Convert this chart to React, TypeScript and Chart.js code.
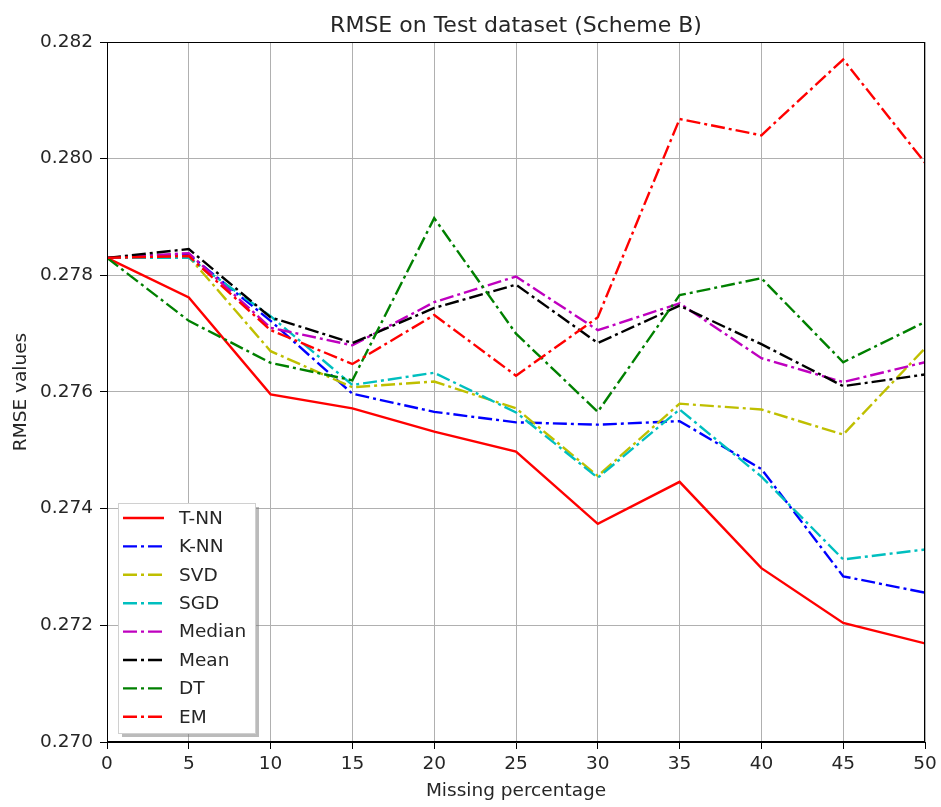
import React, { useEffect, useRef } from "react";
import { Chart, registerables } from "chart.js";

Chart.register(...registerables);

const missing = [0, 5, 10, 15, 20, 25, 30, 35, 40, 45, 50];
const tnn = [0.2783, 0.27762, 0.27596, 0.27572, 0.27532, 0.27498, 0.27374, 0.27446, 0.27298, 0.27204, 0.27169];
const knn = [0.2783, 0.27836, 0.27722, 0.27597, 0.27566, 0.27548, 0.27544, 0.2755, 0.27468, 0.27284, 0.27256];
const svd = [0.2783, 0.27832, 0.2767, 0.27608, 0.27618, 0.27572, 0.27456, 0.2758, 0.2757, 0.27527, 0.27675];
const sgd = [0.2783, 0.2783, 0.2773, 0.27612, 0.27633, 0.27565, 0.27453, 0.2757, 0.27455, 0.27313, 0.2733];
const median = [0.2783, 0.27838, 0.2771, 0.2768, 0.27754, 0.27798, 0.27706, 0.27752, 0.27658, 0.27617, 0.27651];
const mean = [0.2783, 0.27845, 0.27728, 0.27684, 0.27744, 0.27784, 0.27684, 0.27748, 0.27682, 0.2761, 0.2763];
const dt = [0.2783, 0.27722, 0.2765, 0.2762, 0.27898, 0.277, 0.27566, 0.27766, 0.27795, 0.27651, 0.2772];
const em = [0.2783, 0.27833, 0.27706, 0.27648, 0.27732, 0.27628, 0.27728, 0.28068, 0.2804, 0.2817, 0.27993];

const seriesNames = ["T-NN", "K-NN", "SVD", "SGD", "Median", "Mean", "DT", "EM"];
const seriesValues = [tnn, knn, svd, sgd, median, mean, dt, em];
const seriesColors = ["#ff0000", "#0000ff", "#bfbf00", "#00bfbf", "#bf00bf", "#000000", "#008000", "#ff0000"];
const seriesSolid = [true, false, false, false, false, false, false, false];

const titleText = "RMSE on Test dataset (Scheme B)";
const xTitle = "Missing percentage";
const yTitle = "RMSE values";

const FONT = "'DejaVu Sans', sans-serif";
const DASH = [14, 4, 3, 4];
const LW = 2.4;

const overlay = {
  id: "overlay",
  afterDraw(chart: any) {
    const ctx = chart.ctx as CanvasRenderingContext2D;
    const a = chart.chartArea;
    ctx.save();
    // frame
    ctx.strokeStyle = "#000";
    ctx.lineWidth = 1;
    ctx.setLineDash([]);
    ctx.strokeRect(a.left + 0.5, a.top + 0.5, a.right - a.left - 1, a.bottom - a.top - 1);
    // title
    ctx.fillStyle = "#262626";
    ctx.font = `22px ${FONT}`;
    ctx.textAlign = "center";
    ctx.textBaseline = "alphabetic";
    ctx.fillText(titleText, (a.left + a.right) / 2, 32);
    // axis titles
    ctx.font = `18.5px ${FONT}`;
    ctx.fillText(xTitle, (a.left + a.right) / 2, 796);
    ctx.save();
    ctx.translate(26, (a.top + a.bottom) / 2);
    ctx.rotate(-Math.PI / 2);
    ctx.fillText(yTitle, 0, 0);
    ctx.restore();
    // legend
    const bx = 118, by = 503, bw = 137, bh = 230;
    ctx.fillStyle = "rgba(120,120,120,0.5)";
    ctx.fillRect(bx + 4, by + 4, bw, bh);
    ctx.fillStyle = "rgba(255,255,255,1)";
    ctx.fillRect(bx, by, bw, bh);
    ctx.strokeStyle = "#d0d0d0";
    ctx.strokeRect(bx + 0.5, by + 0.5, bw, bh);
    ctx.font = `18.5px ${FONT}`;
    ctx.textAlign = "left";
    ctx.textBaseline = "middle";
    for (let i = 0; i < seriesNames.length; i++) {
      const yy = 518 + i * 28.4;
      ctx.strokeStyle = seriesColors[i];
      ctx.lineWidth = LW;
      ctx.setLineDash(seriesSolid[i] ? [] : DASH);
      ctx.beginPath();
      ctx.moveTo(123, yy);
      ctx.lineTo(164, yy);
      ctx.stroke();
      ctx.setLineDash([]);
      ctx.fillStyle = "#262626";
      ctx.fillText(seriesNames[i], 179, yy + 1);
    }
    ctx.restore();
  },
};

export default function App() {
  const ref = useRef<HTMLCanvasElement>(null);
  useEffect(() => {
    if (!ref.current) return;
    const chart = new Chart(ref.current, {
      type: "line",
      data: {
        datasets: seriesNames.map((name, i) => ({
          label: name,
          data: missing.map((x, j) => ({ x, y: seriesValues[i][j] })),
          borderColor: seriesColors[i],
          backgroundColor: seriesColors[i],
          borderWidth: LW,
          borderDash: seriesSolid[i] ? [] : DASH,
          pointRadius: 0,
          tension: 0,
          fill: false,
          order: seriesNames.length - i,
        })),
      },
      options: {
        animation: false,
        responsive: false,
        devicePixelRatio: 1,
        layout: { padding: { left: 0, top: 42, right: 16, bottom: 0 } },
        plugins: { legend: { display: false }, title: { display: false }, tooltip: { enabled: false } },
        scales: {
          x: {
            type: "linear",
            min: 0,
            max: 50,
            ticks: { stepSize: 5, color: "#262626", font: { family: FONT, size: 18.5 }, padding: 4, maxRotation: 0 },
            grid: { color: "#b0b0b0", lineWidth: 1, tickLength: 7, tickColor: "#000" },
            border: { color: "#000", width: 1 },
            afterFit: (s: any) => { s.height = 65; },
          },
          y: {
            type: "linear",
            min: 0.27,
            max: 0.282,
            ticks: {
              stepSize: 0.002,
              color: "#262626",
              font: { family: FONT, size: 18.5 },
              padding: 7,
              callback: (v: any) => Number(v).toFixed(3),
            },
            grid: { color: "#b0b0b0", lineWidth: 1, tickLength: 7, tickColor: "#000" },
            border: { color: "#000", width: 1 },
            afterFit: (s: any) => { s.width = 107; },
          },
        },
      },
      plugins: [overlay],
    });
    return () => chart.destroy();
  }, []);
  return (
    <div style={{ position: "absolute", left: 0, top: 0, width: 941, height: 807, background: "#fff" }}>
      <canvas ref={ref} width={941} height={807} style={{ width: 941, height: 807 }} />
    </div>
  );
}
